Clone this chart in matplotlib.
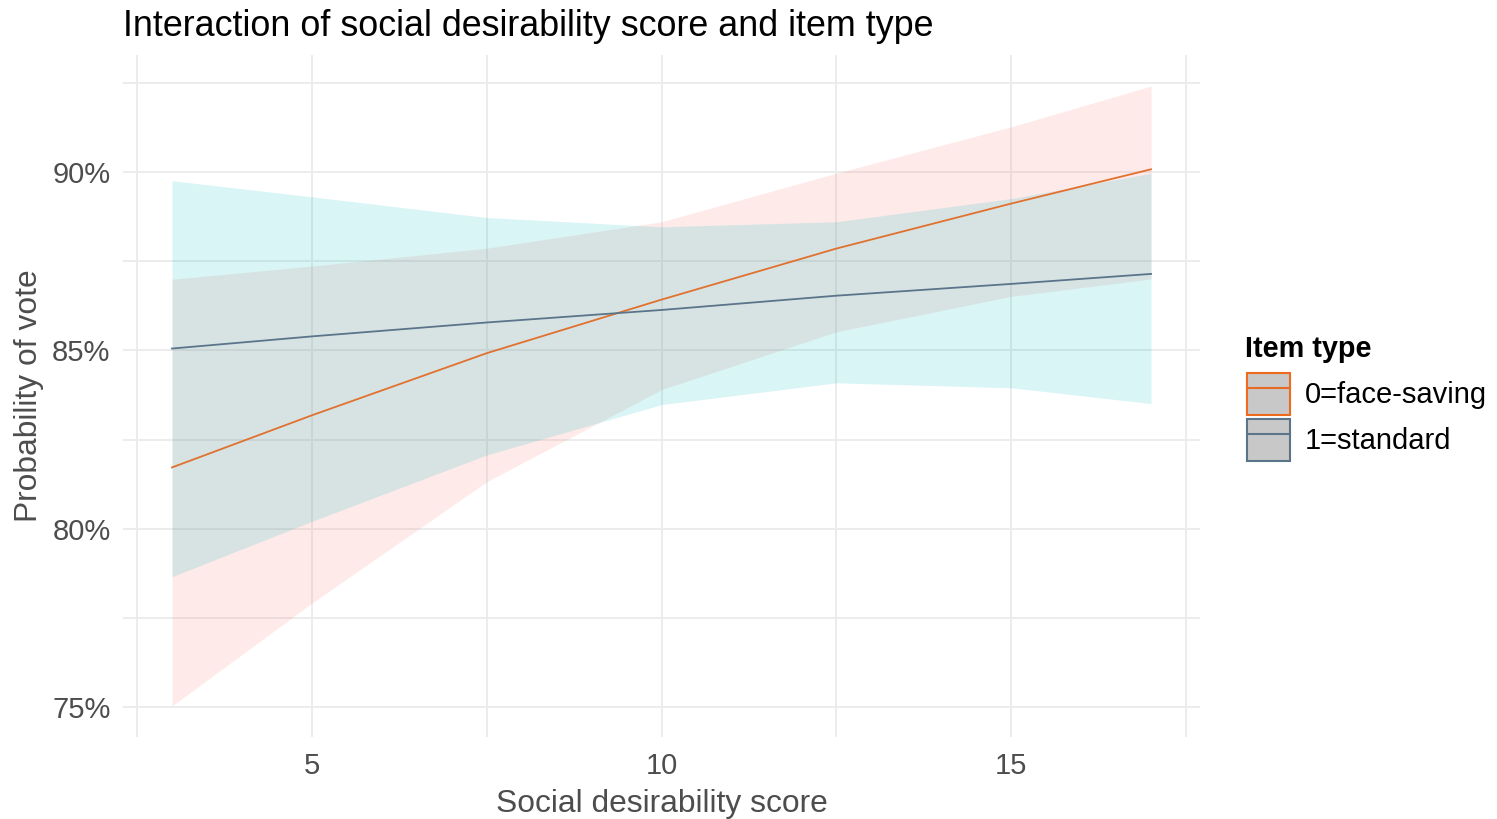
import matplotlib
matplotlib.use("Agg")
import matplotlib.pyplot as plt
from matplotlib.patches import Patch
from matplotlib.lines import Line2D
from matplotlib.legend_handler import HandlerTuple
from matplotlib.ticker import FuncFormatter, FixedLocator

plt.rcParams['font.family'] = ['Liberation Sans', 'DejaVu Sans']

# Predicted probability of vote (%) with 95% confidence bands
score = [3, 5, 7.5, 10, 12.5, 15, 17]

face_fit = [81.72, 83.18, 84.92, 86.42, 87.85, 89.11, 90.07]
face_low = [75.04, 77.92, 81.32, 83.90, 85.52, 86.51, 87.00]
face_high = [86.99, 87.36, 87.86, 88.60, 89.96, 91.26, 92.40]

std_fit = [85.05, 85.39, 85.78, 86.13, 86.53, 86.86, 87.14]
std_low = [78.66, 80.21, 82.07, 83.48, 84.09, 83.95, 83.51]
std_high = [89.75, 89.30, 88.72, 88.46, 88.60, 89.25, 89.96]

group_labels = ["0=face-saving", "1=standard"]
x_ticks = [5, 10, 15]
y_ticks = [75, 80, 85, 90]

fill_face = "#F8766D"
fill_std = "#00BFC4"
line_face = "#E0712E"
line_std = "#5A7589"

fig = plt.figure(figsize=(14.97, 8.19), dpi=100)
ax = fig.add_axes([0.0822, 0.1001, 0.8016 - 0.0822, 0.9328 - 0.1001])

ax.fill_between(score, face_low, face_high, color=fill_face, alpha=0.15, lw=0)
ax.fill_between(score, std_low, std_high, color=fill_std, alpha=0.15, lw=0)
ax.plot(score, face_fit, color=line_face, lw=1.3)
ax.plot(score, std_fit, color=line_std, lw=1.3)

ax.set_xlim(2.3, 17.7)
ax.set_ylim(74.17, 93.27)

ax.xaxis.set_major_locator(FixedLocator(x_ticks))
ax.xaxis.set_minor_locator(FixedLocator([2.5, 7.5, 12.5, 17.5]))
ax.yaxis.set_major_locator(FixedLocator(y_ticks))
ax.yaxis.set_minor_locator(FixedLocator([77.5, 82.5, 87.5, 92.5]))
ax.yaxis.set_major_formatter(FuncFormatter(lambda v, p: f"{v:.0f}%"))

ax.grid(True, which="both", color="#EBEBEB", lw=1.3)
ax.set_axisbelow(True)
for s in ax.spines.values():
    s.set_visible(False)
ax.tick_params(which="both", length=0)
ax.tick_params(axis="x", labelsize=21, labelcolor="#4D4D4D", pad=11)
ax.tick_params(axis="y", labelsize=21, labelcolor="#4D4D4D", pad=9)

ax.set_xlabel("Social desirability score", fontsize=22.9, color="#4D4D4D", labelpad=6)
ax.set_ylabel("Probability of vote", fontsize=22.9, color="#4D4D4D", labelpad=6)
ax.set_title("Interaction of social desirability score and item type",
             fontsize=25.8, loc="left", pad=14, color="black")

# Legend: title placed as its own text, keys are grey boxes outlined in the line colour
fig.text(1245 / 1497, 1 - 357 / 819, "Item type", fontsize=20.8,
         fontweight="bold", ha="left", va="baseline", color="black")

handles = [
    (Patch(facecolor="#C8C8C8", edgecolor="#F06A1E", lw=1.5),
     Line2D([], [], color="#E86A24", lw=1.5)),
    (Patch(facecolor="#C8C8C8", edgecolor=line_std, lw=1.5),
     Line2D([], [], color=line_std, lw=1.5)),
]
leg = fig.legend(handles, group_labels, loc="upper left",
                 bbox_to_anchor=(1247 / 1497, 1 - 373 / 819),
                 frameon=False, fontsize=21, borderpad=0, borderaxespad=0,
                 handler_map={tuple: HandlerTuple(ndivide=1, pad=0)},
                 handlelength=1.474, handleheight=1.838, handletextpad=0.51,
                 labelspacing=0.137)

fig.savefig("out.png", dpi=100)
